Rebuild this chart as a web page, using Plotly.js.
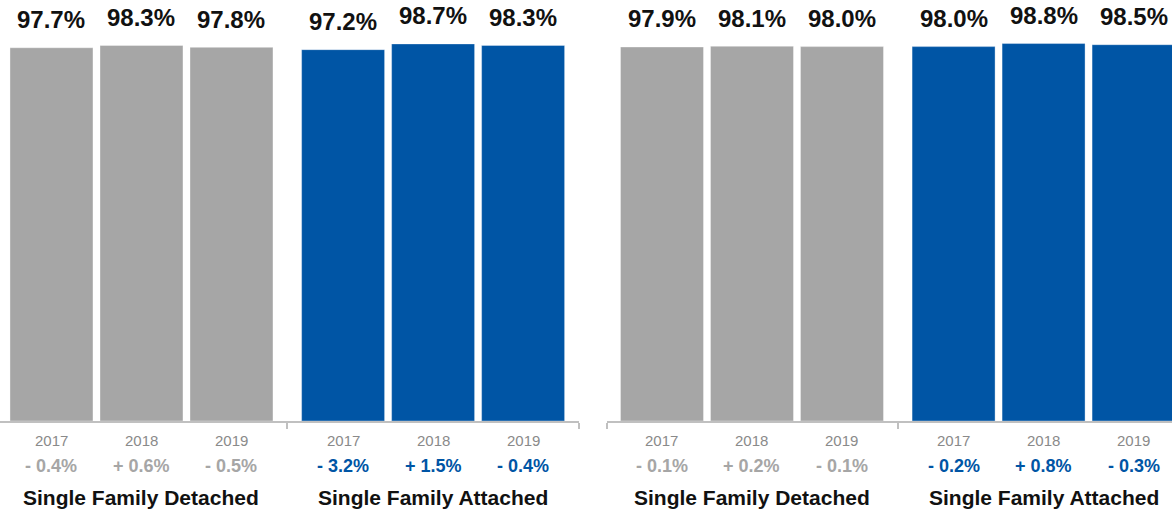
<!DOCTYPE html>
<html><head><meta charset="utf-8">
<script src="https://cdn.plot.ly/plotly-3.0.1.min.js"></script>
<style>html,body{margin:0;padding:0;background:#fff;}#chart{width:1172px;height:511px;}</style>
</head><body><div id="chart"></div>
<script>
const years = ['2017', '2018', '2019'];
const groupNames = ['Single Family Detached', 'Single Family Attached'];

const leftDetached = [97.7, 98.3, 97.8];
const leftAttached = [97.2, 98.7, 98.3];
const rightDetached = [97.9, 98.1, 98.0];
const rightAttached = [98.0, 98.8, 98.5];

const leftDetachedChange = ['- 0.4%', '+ 0.6%', '- 0.5%'];
const leftAttachedChange = ['- 3.2%', '+ 1.5%', '- 0.4%'];
const rightDetachedChange = ['- 0.1%', '+ 0.2%', '- 0.1%'];
const rightAttachedChange = ['- 0.2%', '+ 0.8%', '- 0.3%'];

const GRAY = '#a6a6a6', BLUE = '#0055a5';
const FONT = 'Liberation Sans, Arial, sans-serif';
const GROUP_GAP = 3.24;
const pos = (g) => years.map((_, i) => i + g * GROUP_GAP);

const panels = [
  {xa: 'x', groups: [[leftDetached, leftDetachedChange, GRAY], [leftAttached, leftAttachedChange, BLUE]]},
  {xa: 'x2', groups: [[rightDetached, rightDetachedChange, GRAY], [rightAttached, rightAttachedChange, BLUE]]}
];

const traces = [];
const annotations = [];
panels.forEach(p => {
  p.groups.forEach((g, gi) => {
    const [vals, chg, col] = g;
    const xs = pos(gi);
    traces.push({
      type: 'bar', x: xs, y: vals, xaxis: p.xa, yaxis: 'y',
      width: 0.922,
      marker: {color: col, line: {color: 'rgba(255,255,255,0.35)', width: 1}},
      hoverinfo: 'skip', showlegend: false
    });
    vals.forEach((v, i) => {
      annotations.push({xref: p.xa, yref: 'y', x: xs[i], y: v, yshift: 28, yanchor: 'middle',
        text: '<b>' + v.toFixed(1) + '%</b>', showarrow: false,
        font: {family: FONT, size: 24, color: '#111'}});
      annotations.push({xref: p.xa, yref: 'paper', x: xs[i], y: 0, yshift: -19, yanchor: 'middle',
        text: years[i], showarrow: false, font: {family: FONT, size: 15, color: '#8a8a8a'}});
      annotations.push({xref: p.xa, yref: 'paper', x: xs[i], y: 0, yshift: -45, yanchor: 'middle',
        text: '<b>' + chg[i] + '</b>', showarrow: false, font: {family: FONT, size: 18, color: col}});
    });
    annotations.push({xref: p.xa, yref: 'paper', x: xs[1], y: 0, yshift: -76, yanchor: 'middle',
      text: '<b>' + groupNames[gi] + '</b>', showarrow: false, font: {family: FONT, size: 21, color: '#111'}});
  });
});

const axCommon = {showgrid: false, zeroline: false, showline: true, linecolor: '#c0c0c0', linewidth: 2,
  ticks: 'outside', ticklen: 6, tickwidth: 2, tickcolor: '#c0c0c0', showticklabels: false, fixedrange: true};

const layout = {
  width: 1172, height: 511,
  margin: {l: 0, r: 0, t: 0, b: 90},
  paper_bgcolor: '#fff', plot_bgcolor: '#fff',
  bargap: 0,
  xaxis: Object.assign({}, axCommon, {domain: [0, 579 / 1172], range: [-0.572, 5.861],
    tickmode: 'array', tickvals: [2.62, 5.861]}),
  xaxis2: Object.assign({}, axCommon, {domain: [607 / 1172, 1], range: [-0.611, 5.667],
    tickmode: 'array', tickvals: [-0.611, 2.62], anchor: 'y'}),
  yaxis: {range: [0, 110.2], visible: false, fixedrange: true},
  annotations: annotations
};

Plotly.newPlot('chart', traces, layout, {displayModeBar: false, staticPlot: true});
</script></body></html>
